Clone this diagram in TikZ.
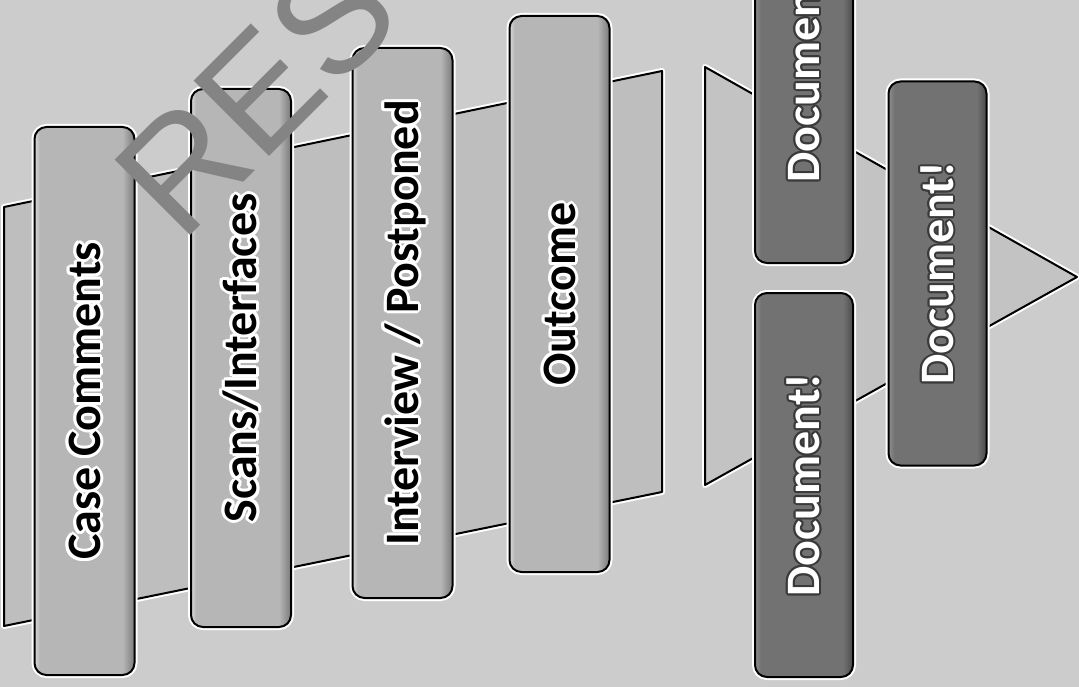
\documentclass[tikz,border=0pt]{standalone}
\usepackage{fontspec}
\setmainfont{Carlito}
\newfontfamily\markfont{Liberation Sans}

% palette
\definecolor{pagebg}{HTML}{CCCCCC}
\definecolor{funnelfill}{HTML}{BEBEBE}
\definecolor{arrowfill}{HTML}{C3C3C3}
\definecolor{paneL}{HTML}{DADADA}
\definecolor{paneBody}{HTML}{B6B6B6}
\definecolor{paneR}{HTML}{7A7A7A}
\definecolor{darkL}{HTML}{8E8E8E}
\definecolor{darkBody}{HTML}{727272}
\definecolor{darkR}{HTML}{4A4A4A}
\definecolor{markgrey}{HTML}{848484}
\definecolor{halodark}{HTML}{3A3A3A}

% pane shadings: light stripe on the left, dark band on the right
\pgfdeclarehorizontalshading{paneshade}{100bp}{color(0bp)=(paneL); color(25bp)=(paneL); color(27.5bp)=(paneBody); color(69bp)=(paneBody); color(75bp)=(paneR); color(100bp)=(paneR)}
\pgfdeclarehorizontalshading{darkshade}{100bp}{color(0bp)=(darkL); color(25bp)=(darkL); color(28bp)=(darkBody); color(70bp)=(darkBody); color(75bp)=(darkR); color(100bp)=(darkR)}

% text with a surrounding halo: #1 halo colour, #2 text colour, #3 radius (pt), #4 text
\newcommand\halotext[4]{{%
  \foreach \ang in {0,30,...,330}{%
    \pgfmathsetmacro\hx{#3*cos(\ang)}%
    \pgfmathsetmacro\hy{#3*sin(\ang)}%
    \rlap{\kern\hx pt\raisebox{\hy pt}{\color{#1}#4}}}%
  {\color{#2}#4}}}

\begin{document}
\begin{tikzpicture}[x=1pt,y=-1pt,
  embossed/.style={draw=black, line width=2pt, line join=round,
    preaction={draw=white, line width=6pt, line join=round}},
  lightpane/.style={embossed, shading=paneshade, rounded corners=12pt,
    minimum width=100pt, inner sep=0pt, outer sep=0pt},
  darkpane/.style={embossed, shading=darkshade, rounded corners=12pt,
    minimum width=98pt, minimum height=384pt, inner sep=0pt, outer sep=0pt},
  paneword/.style={rotate=90, inner sep=0pt, text height=31pt, text depth=0pt,
    font=\fontsize{48}{48}\selectfont\bfseries},
  stamp/.style={rotate=45, anchor=base west, inner sep=0pt, text=markgrey,
    font=\markfont\fontsize{155}{155}\selectfont}]

\useasboundingbox (0,0) rectangle (1079,687);
\clip (0,0) rectangle (1079,687);
\fill[pagebg] (0,0) rectangle (1079,687);

% widening band behind the stages
\path[embossed, fill=funnelfill] (4,207) -- (662,71) -- (662,492) -- (4,626) -- cycle;

% arrow head on the right
\path[embossed, fill=arrowfill] (705,67) -- (1077,277) -- (705,485) -- cycle;

% stages
\node[lightpane, minimum height=548pt] (cc) at (84.5,401) {};
\node[lightpane, minimum height=538pt] (sc) at (241,358) {};
\node[lightpane, minimum height=550pt] (iv) at (402.5,323) {};
\node[lightpane, minimum height=556pt] (oc) at (559.5,294) {};

% documentation steps
\node[darkpane] (d1) at (804,71) {};
\node[darkpane] (d2) at (804,485) {};
\node[darkpane] (d3) at (937.5,273.5) {};

% labels
\node[paneword] (cc-t) at (cc.center) {\halotext{white}{black}{3}{Case Comments}};
\node[paneword] (sc-t) at (sc.center) {\halotext{white}{black}{3}{Scans/Interfaces}};
\node[paneword] (iv-t) at (iv.center) {\halotext{white}{black}{3}{Interview / Postponed}};
\node[paneword] (oc-t) at (oc.center) {\halotext{white}{black}{3}{Outcome}};
\node[paneword] (d1-t) at (d1.center) {\halotext{halodark}{white}{2}{Document!}};
\node[paneword] (d2-t) at (d2.center) {\halotext{halodark}{white}{2}{Document!}};
\node[paneword] (d3-t) at (d3.center) {\halotext{halodark}{white}{2}{Document!}};

% stamp across the top left
\node[stamp] (mark) at (181.5,244.5) {RES};
\end{tikzpicture}
\end{document}
